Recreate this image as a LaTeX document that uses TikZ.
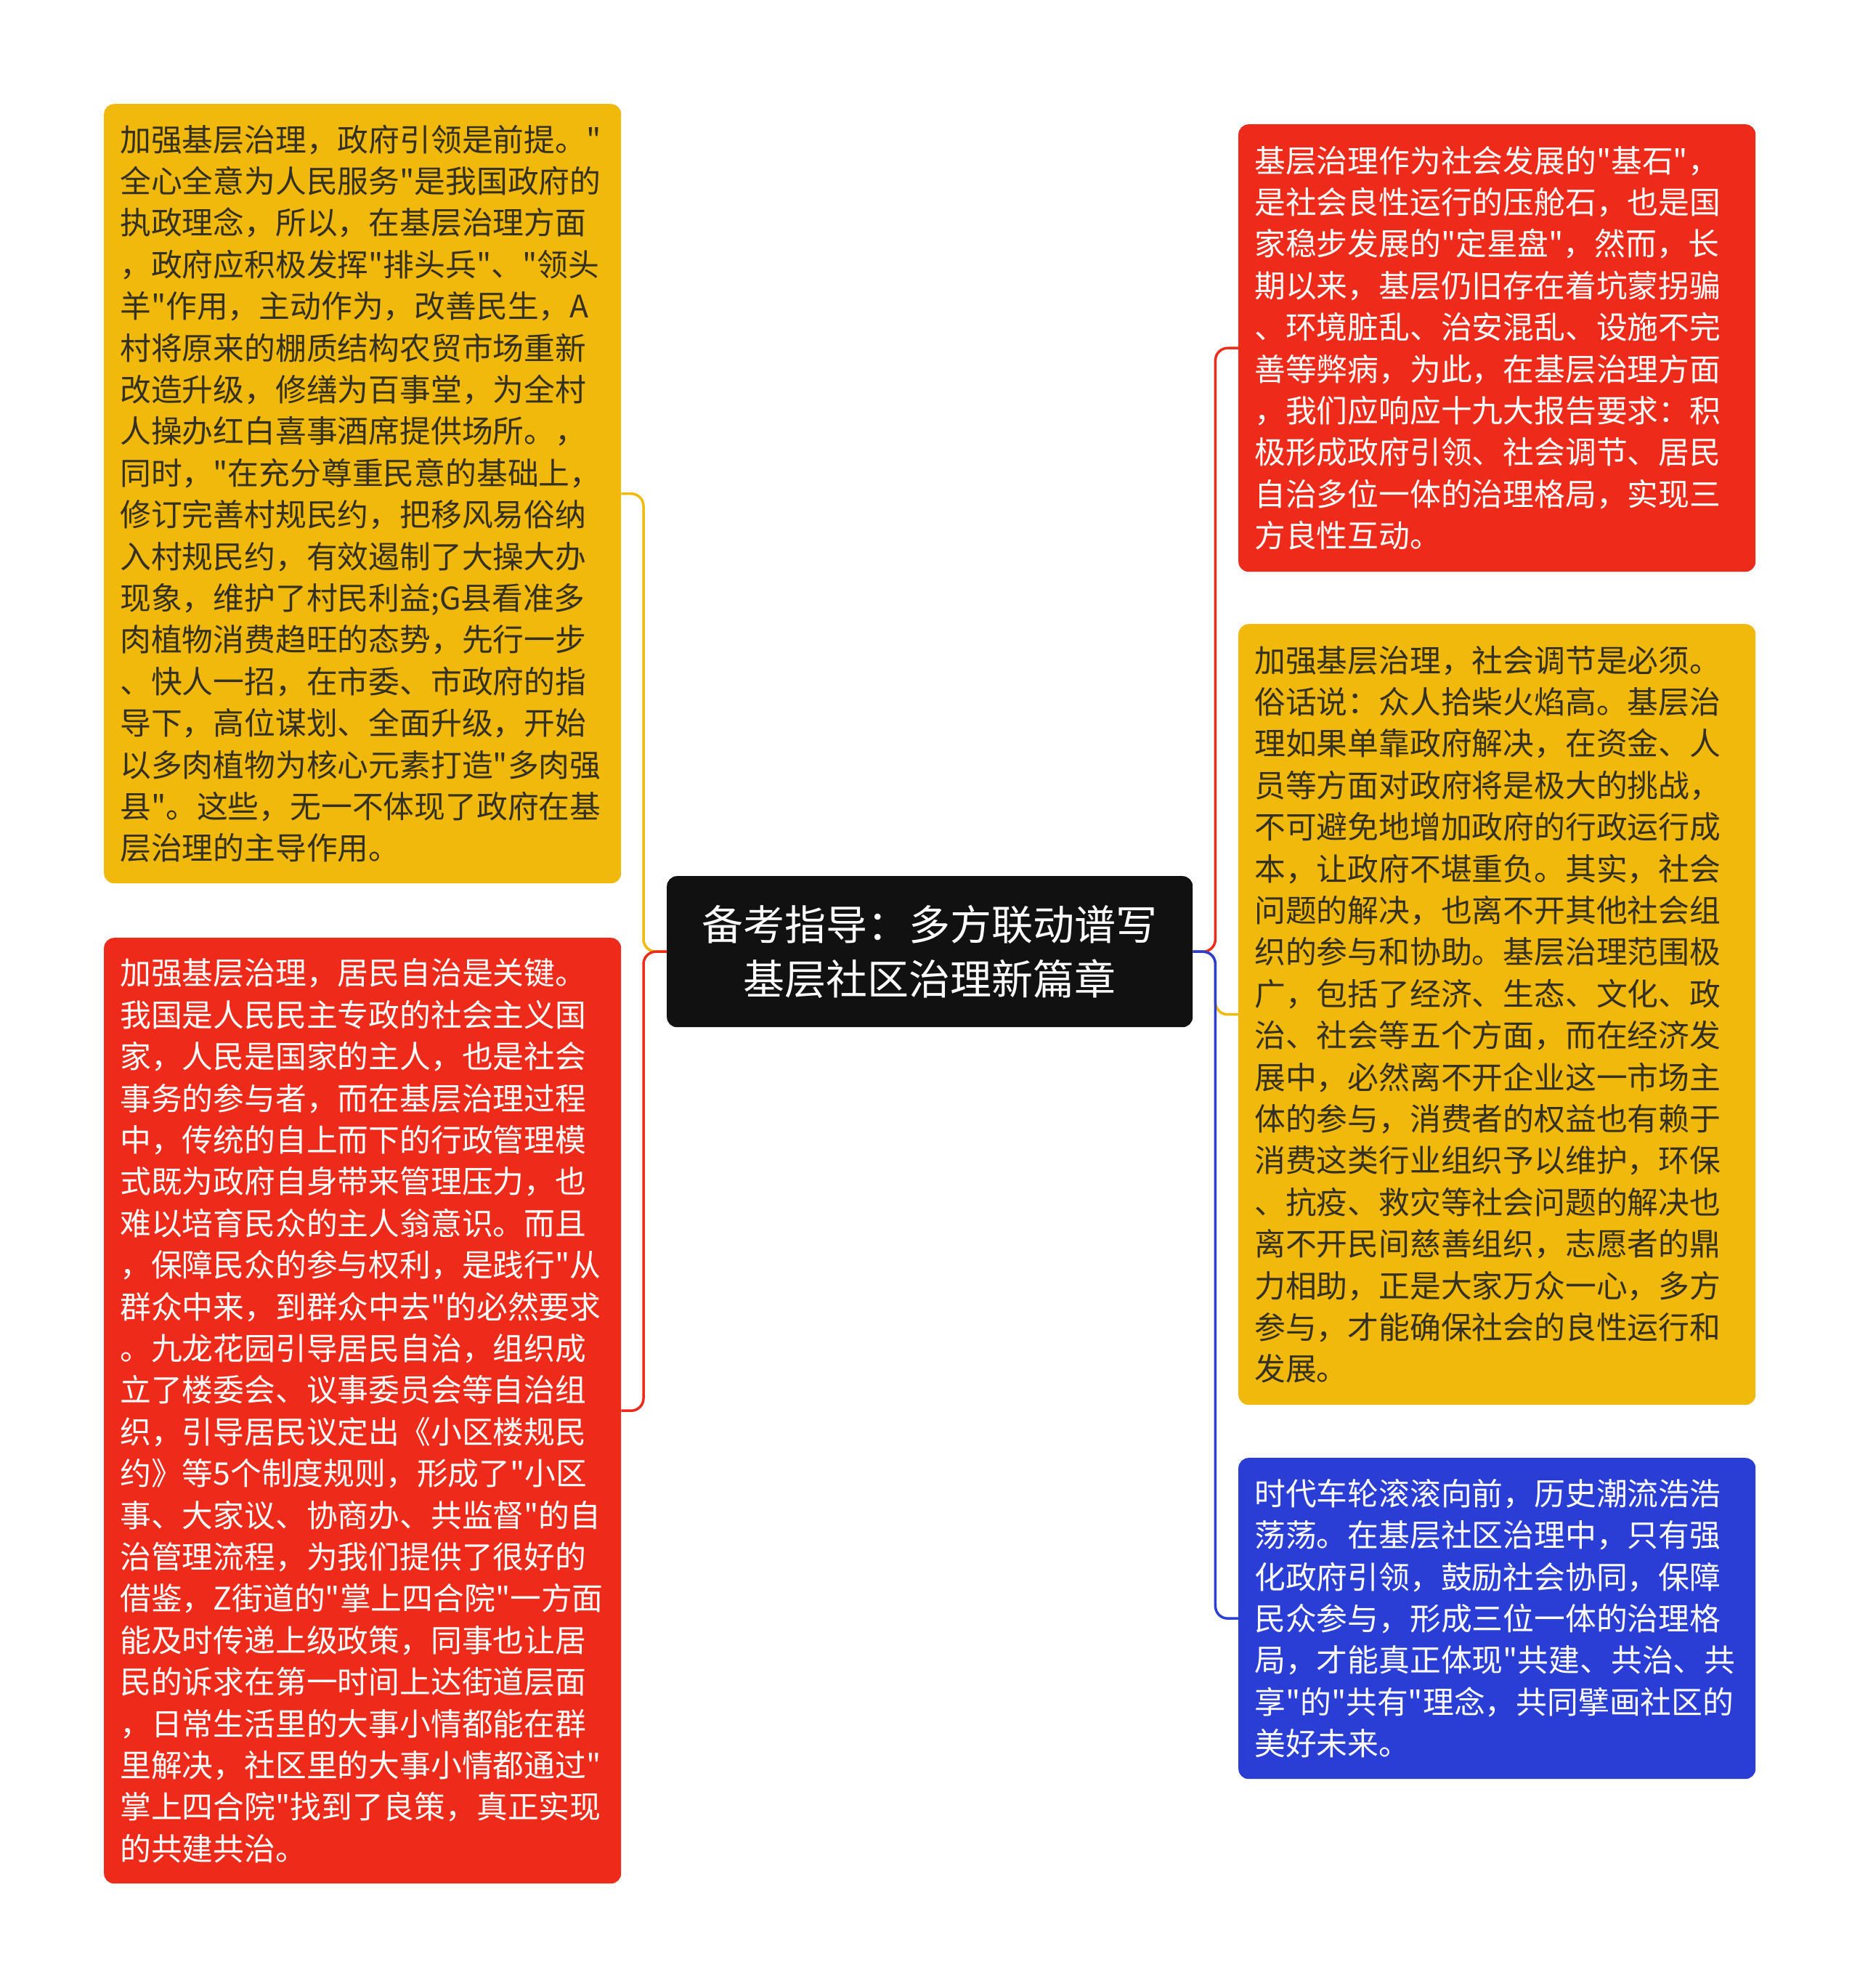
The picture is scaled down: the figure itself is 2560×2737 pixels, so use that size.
\documentclass[tikz,border=0pt]{standalone}
\usepackage{fontspec}
\newfontfamily\cjkfont{Noto Sans CJK SC}
\definecolor{myyel}{RGB}{240,185,12}
\definecolor{myred}{RGB}{238,42,26}
\definecolor{myblue}{RGB}{42,62,214}
\definecolor{myblack}{RGB}{17,17,17}
\definecolor{darktext}{RGB}{52,48,36}
\begin{document}
\begin{tikzpicture}[x=1pt,y=-1pt,
  box/.style={rounded corners=14pt, anchor=north west, minimum width=712pt,
    text width=668pt, inner xsep=22pt, inner ysep=0pt, align=left,
    font=\cjkfont\fontsize{42.8pt}{57.4pt}\selectfont},
  yelbox/.style={box, fill=myyel, text=darktext},
  redbox/.style={box, fill=myred, text=white},
  bluebox/.style={box, fill=myblue, text=white},
  centerbox/.style={rounded corners=14pt, anchor=north west, fill=myblack, text=white,
    minimum width=724pt, minimum height=208pt, align=center, inner sep=0pt,
    font=\cjkfont\fontsize{57pt}{75pt}\selectfont},
  conn/.style={line width=3.5pt, rounded corners=17pt}
]
\useasboundingbox (0,0) rectangle (2560,2737);
\fill[white] (0,0) rectangle (2560,2737);

\node[centerbox] (c) at (918,1206) {备考指导：多方联动谱写\\基层社区治理新篇章};

\node[yelbox, minimum height=1073pt] (L1) at (143,143) {加强基层治理，政府引领是前提。"\\
全心全意为人民服务"是我国政府的\\
执政理念，所以，在基层治理方面\\
，政府应积极发挥"排头兵"、"领头\\
羊"作用，主动作为，改善民生，A\\
村将原来的棚质结构农贸市场重新\\
改造升级，修缮为百事堂，为全村\\
人操办红白喜事酒席提供场所。，\\
同时，"在充分尊重民意的基础上，\\
修订完善村规民约，把移风易俗纳\\
入村规民约，有效遏制了大操大办\\
现象，维护了村民利益;G县看准多\\
肉植物消费趋旺的态势，先行一步\\
、快人一招，在市委、市政府的指\\
导下，高位谋划、全面升级，开始\\
以多肉植物为核心元素打造"多肉强\\
县"。这些，无一不体现了政府在基\\
层治理的主导作用。};

\node[redbox, minimum height=1302pt] (L2) at (143,1291) {加强基层治理，居民自治是关键。\\
我国是人民民主专政的社会主义国\\
家，人民是国家的主人，也是社会\\
事务的参与者，而在基层治理过程\\
中，传统的自上而下的行政管理模\\
式既为政府自身带来管理压力，也\\
难以培育民众的主人翁意识。而且\\
，保障民众的参与权利，是践行"从\\
群众中来，到群众中去"的必然要求\\
。九龙花园引导居民自治，组织成\\
立了楼委会、议事委员会等自治组\\
织，引导居民议定出《小区楼规民\\
约》等5个制度规则，形成了"小区\\
事、大家议、协商办、共监督"的自\\
治管理流程，为我们提供了很好的\\
借鉴，Z街道的"掌上四合院"一方面\\
能及时传递上级政策，同事也让居\\
民的诉求在第一时间上达街道层面\\
，日常生活里的大事小情都能在群\\
里解决，社区里的大事小情都通过"\\
掌上四合院"找到了良策，真正实现\\
的共建共治。};

\node[redbox, minimum height=616pt] (R1) at (1705,171) {基层治理作为社会发展的"基石"，\\
是社会良性运行的压舱石，也是国\\
家稳步发展的"定星盘"，然而，长\\
期以来，基层仍旧存在着坑蒙拐骗\\
、环境脏乱、治安混乱、设施不完\\
善等弊病，为此，在基层治理方面\\
，我们应响应十九大报告要求：积\\
极形成政府引领、社会调节、居民\\
自治多位一体的治理格局，实现三\\
方良性互动。};

\node[yelbox, minimum height=1075pt] (R2) at (1705,859) {加强基层治理，社会调节是必须。\\
俗话说：众人拾柴火焰高。基层治\\
理如果单靠政府解决，在资金、人\\
员等方面对政府将是极大的挑战，\\
不可避免地增加政府的行政运行成\\
本，让政府不堪重负。其实，社会\\
问题的解决，也离不开其他社会组\\
织的参与和协助。基层治理范围极\\
广，包括了经济、生态、文化、政\\
治、社会等五个方面，而在经济发\\
展中，必然离不开企业这一市场主\\
体的参与，消费者的权益也有赖于\\
消费这类行业组织予以维护，环保\\
、抗疫、救灾等社会问题的解决也\\
离不开民间慈善组织，志愿者的鼎\\
力相助，正是大家万众一心，多方\\
参与，才能确保社会的良性运行和\\
发展。};

\node[bluebox, minimum height=442pt] (R3) at (1705,2007) {时代车轮滚滚向前，历史潮流浩浩\\
荡荡。在基层社区治理中，只有强\\
化政府引领，鼓励社会协同，保障\\
民众参与，形成三位一体的治理格\\
局，才能真正体现"共建、共治、共\\
享"的"共有"理念，共同擘画社区的\\
美好未来。};

\draw[conn, draw=myyel] (c.west) -- ++(-32,0) |- (L1.east);
\draw[conn, draw=myred] (c.west) -- ++(-32,0) |- (L2.east);
\draw[conn, draw=myred] (c.east) -- ++(31,0) |- (R1.west);
\draw[conn, draw=myyel] (c.east) -- ++(31,0) |- (R2.west);
\draw[conn, draw=myblue] (c.east) -- ++(31,0) |- (R3.west);
\end{tikzpicture}
\end{document}
